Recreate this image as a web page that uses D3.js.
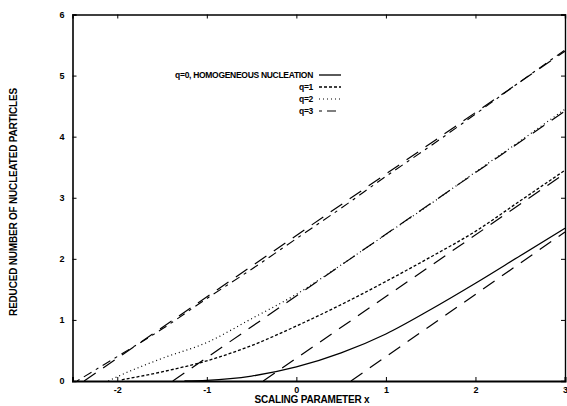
<!DOCTYPE html>
<html>
<head>
<meta charset="utf-8">
<script src="https://cdn.jsdelivr.net/npm/d3@7"></script>
<style>
body { margin: 0; background: #fff; }
text { font-family: "Liberation Sans", Arial, sans-serif; font-weight: bold; fill: #000; }
</style>
</head>
<body>
<svg width="567" height="406"></svg>
<script>
var svg = d3.select("svg"),
    width = +svg.attr("width"),
    height = +svg.attr("height");

var xs0 = [-1.25, -1, -0.5, 0, 0.5, 1, 1.5, 2, 2.5, 3];
var q0  = [0, 0.01, 0.08, 0.23, 0.46, 0.77, 1.17, 1.6, 2.05, 2.5];

var xs1 = [-1.95, -1.5, -1, -0.5, 0, 0.5, 1, 1.5, 2, 2.5, 3];
var q1  = [0.02, 0.15, 0.33, 0.58, 0.9, 1.25, 1.63, 2.03, 2.45, 2.95, 3.45];

var xs2 = [-2.1, -2, -1.5, -1, -0.5, 0, 0.5, 1, 1.5, 2, 2.5, 3];
var q2  = [0, 0.07, 0.37, 0.63, 1.02, 1.42, 1.9, 2.4, 2.9, 3.42, 3.93, 4.45];

var xs3 = [-2.45, -2, -1.5, -1, -0.5, 0, 0.5, 1, 1.5, 2, 2.5, 3];
var q3  = [0, 0.4, 0.85, 1.35, 1.83, 2.33, 2.83, 3.35, 3.85, 4.37, 4.9, 5.42];

// long-dash asymptotes: [x start, y start, x end, y end]
var asym0 = [0.61, 0, 3, 2.44];
var asym1 = [-0.37, 0, 3, 3.4];
var asym2 = [-1.38, 0, 3, 4.42];
var asym3 = [-2.37, 0, 3, 5.4];

var legendLabels = ["q=0, HOMOGENEOUS NUCLEATION", "q=1", "q=2", "q=3"];
var xTicks = [-2, -1, 0, 1, 2, 3];
var yTicks = [0, 1, 2, 3, 4, 5, 6];

var x = d3.scaleLinear().domain([-2.5, 3]).range([72.5, 565]);
var y = d3.scaleLinear().domain([0, 6]).range([381, 14.5]);

var styles = [
  {dash: null, w: 1.3},
  {dash: "3,2", w: 1.3},
  {dash: "1,3", w: 1.2},
  {dash: "3,5,9,5", w: 1.1}
];

function zip(a, b) { return a.map(function(v, i) { return [v, b[i]]; }); }
var series = [zip(xs0, q0), zip(xs1, q1), zip(xs2, q2), zip(xs3, q3)];
var asyms = [asym0, asym1, asym2, asym3];

var line = d3.line()
  .x(function(d) { return x(d[0]); })
  .y(function(d) { return y(d[1]); })
  .curve(d3.curveMonotoneX);

var plot = svg.append("g");

// asymptotes
plot.selectAll(".asym").data(asyms).enter().append("line")
  .attr("class", "asym")
  .attr("x1", function(d) { return x(d[0]); })
  .attr("y1", function(d) { return y(d[1]); })
  .attr("x2", function(d) { return x(d[2]); })
  .attr("y2", function(d) { return y(d[3]); })
  .attr("stroke", "#000")
  .attr("stroke-width", 1.2)
  .attr("stroke-dasharray", "14,9");

plot.selectAll(".curve").data(series).enter().append("path")
  .attr("class", "curve")
  .attr("d", line)
  .attr("fill", "none")
  .attr("stroke", "#000")
  .attr("stroke-width", function(d, i) { return styles[i].w; })
  .attr("stroke-dasharray", function(d, i) { return styles[i].dash; });

var fmt = function(d) { return String(d); };

// axes, ticks inward
svg.append("g")
  .attr("transform", "translate(0," + y(0) + ")")
  .call(d3.axisBottom(x).tickValues(xTicks).tickSize(-4).tickPadding(6).tickFormat(fmt))
  .call(function(g) {
    g.select(".domain").attr("stroke-width", 2);
    g.selectAll("text").style("font-size", "9px").style("font-family", "Liberation Sans").style("font-weight", "bold");
  });

svg.append("g")
  .attr("transform", "translate(" + x(-2.5) + ",0)")
  .call(d3.axisLeft(y).tickValues(yTicks).tickSize(-4).tickPadding(8).tickFormat(fmt))
  .call(function(g) {
    g.select(".domain").attr("stroke-width", 1.6);
    g.selectAll("text").style("font-size", "9px").style("font-family", "Liberation Sans").style("font-weight", "bold");
  });

svg.append("g")
  .attr("transform", "translate(0," + y(6) + ")")
  .call(d3.axisTop(x).tickValues(xTicks).tickSize(-4).tickFormat(""))
  .call(function(g) { g.select(".domain").attr("stroke-width", 1.4); });

svg.append("g")
  .attr("transform", "translate(" + x(3) + ",0)")
  .call(d3.axisRight(y).tickValues(yTicks).tickSize(-4).tickFormat(""))
  .call(function(g) { g.select(".domain").attr("stroke-width", 1.4); });

// legend
var leg = svg.append("g");
legendLabels.forEach(function(lab, i) {
  var ly = 75 + i * 12;
  leg.append("text")
    .attr("x", 313).attr("y", ly + 3)
    .attr("text-anchor", "end")
    .style("font-size", "8.5px")
    .style("letter-spacing", "-0.3px")
    .text(lab);
  leg.append("line")
    .attr("x1", 319).attr("x2", 341)
    .attr("y1", ly).attr("y2", ly)
    .attr("stroke", "#000")
    .attr("stroke-width", styles[i].w)
    .attr("stroke-dasharray", styles[i].dash);
});

// axis titles
svg.append("text")
  .attr("x", 312).attr("y", 403)
  .attr("text-anchor", "middle")
  .style("font-size", "10px")
  .style("letter-spacing", "-0.2px")
  .text("SCALING PARAMETER  x");

svg.append("text")
  .attr("transform", "translate(17,202) rotate(-90)")
  .attr("text-anchor", "middle")
  .style("font-size", "10px")
  .style("letter-spacing", "-0.2px")
  .text("REDUCED NUMBER OF NUCLEATED PARTICLES");
</script>
</body>
</html>
